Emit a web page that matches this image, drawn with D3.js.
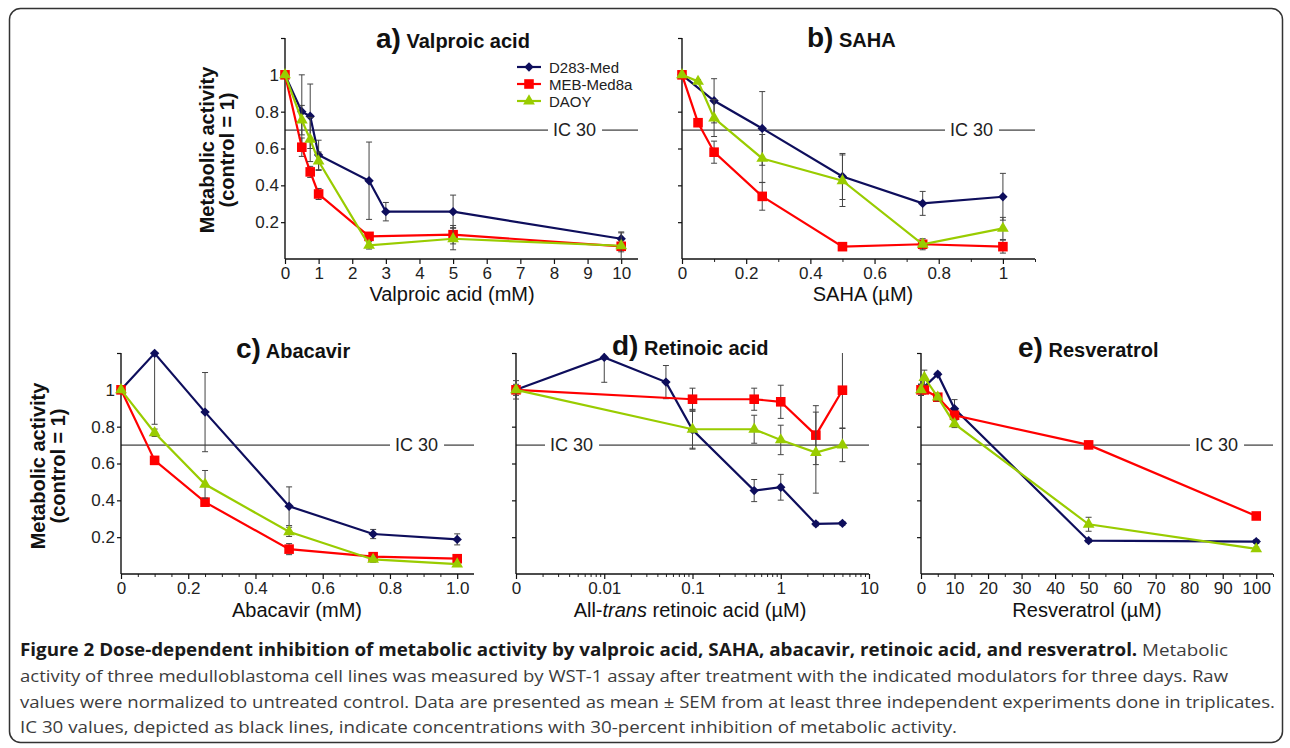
<!DOCTYPE html>
<html>
<head>
<meta charset="utf-8">
<script src="https://cdn.jsdelivr.net/npm/d3@7"></script>
<style>
  body { margin: 0; background: #fff; }
  svg { display: block; font-family: "Liberation Sans", Arial, sans-serif; }
</style>
</head>
<body>
<div id="main"></div>
<script>
// cell lines
var seriesNames = ["D283-Med", "MEB-Med8a", "DAOY"];

// a) Valproic acid (mM)
var vpaDose = [0, 0.5, 0.75, 1, 2.5, 3, 5, 10];
var vpaD283 = [1.0, 0.80, 0.775, 0.565, 0.425, 0.257, 0.257, 0.11];
var vpaD283Err = [0, 0.2, 0.175, 0.08, 0.21, 0.05, 0.09, 0.037];
var vpaMEB = [1.0, 0.607, 0.473, 0.353, 0.123, null, 0.132, 0.069];
var vpaMEBErr = [0, 0.05, 0.03, 0.03, 0.02, null, 0.05, 0.03];
var vpaDAOY = [1.0, 0.754, 0.649, 0.531, 0.074, null, 0.11, 0.072];
var vpaDAOYErr = [0, 0.08, 0.12, 0.05, 0.02, null, 0.06, 0.07];

// b) SAHA (uM)
var sahaDose = [0, 0.05, 0.1, 0.25, 0.5, 0.75, 1];
var sahaD283 = [1.0, null, 0.859, 0.709, 0.448, 0.302, 0.338];
var sahaD283Err = [0, null, 0.12, 0.2, 0.125, 0.065, 0.127];
var sahaMEB = [1.0, 0.74, 0.58, 0.34, 0.067, 0.08, 0.067];
var sahaMEBErr = [0, 0.02, 0.06, 0.075, 0.01, 0.02, 0.035];
var sahaDAOY = [1.0, 0.964, 0.765, 0.546, 0.425, 0.08, 0.166];
var sahaDAOYErr = [0, 0.01, 0.1, 0.13, 0.14, 0.03, 0.06];

// c) Abacavir (mM)
var abcDose = [0, 0.1, 0.25, 0.5, 0.75, 1.0];
var abcD283 = [1.0, 1.198, 0.879, 0.368, 0.217, 0.188];
var abcD283Err = [0, 0.385, 0.215, 0.105, 0.025, 0.03];
var abcMEB = [1.0, 0.617, 0.39, 0.135, 0.094, 0.083];
var abcMEBErr = [0, 0.02, 0.02, 0.03, 0.02, 0.02];
var abcDAOY = [1.0, 0.767, 0.487, 0.229, 0.079, 0.054];
var abcDAOYErr = [0, 0.02, 0.075, 0.025, 0.015, 0.01];

// d) All-trans retinoic acid (uM), 0 is drawn at the left end of the log axis
var raDose = [0, 0.01, 0.05, 0.1, 0.5, 1, 2.5, 5];
var raD283 = [1.0, 1.176, 1.042, 0.783, 0.453, 0.471, 0.272, 0.275];
var raD283Err = [0.02, 0.135, 0.09, 0.1, 0.06, 0.07, 0.01, 0.01];
var raMEB = [1.0, null, null, 0.949, 0.949, 0.935, 0.754, 0.998];
var raMEBErr = [0.05, null, null, 0.06, 0.06, 0.09, 0.16, 0.205];
var raDAOY = [1.0, null, null, 0.786, 0.786, 0.728, 0.659, 0.70];
var raDAOYErr = [0.03, null, null, 0.108, 0.076, 0.08, 0.22, 0.09];

// e) Resveratrol (uM)
var resDose = [0, 1, 5, 10, 50, 100];
var resD283 = [1.0, null, 1.085, 0.897, 0.181, 0.176];
var resD283Err = [0.03, null, 0.01, 0.05, 0.01, 0.01];
var resMEB = [1.0, 1.0, 0.96, 0.862, 0.701, 0.315];
var resMEBErr = [0.03, 0.02, 0.02, 0.02, 0.02, 0.01];
var resDAOY = [1.0, 1.067, 0.96, 0.815, 0.27, 0.136];
var resDAOYErr = [0.03, 0.04, 0.02, 0.02, 0.038, 0.01];

var yTicks = [0.2, 0.4, 0.6, 0.8, 1.0, 1.2];
var icLevel = 0.7;

var ctx = {
    w: 1290,
    h: 748,
    colors: ["#0e0e5c", "#ff0000", "#99cc00"],
    symbols: [
        {type: d3.symbolSquare, size: 44, rotate: 45},
        {type: d3.symbolSquare, size: 92, rotate: 0},
        {type: d3.symbolTriangle, size: 60, rotate: 0}
    ],
    tickFont: 17
};

var panels = [
    {letter: "a)", title: "Valproic acid", xlabel: "Valproic acid (mM)",
     x0: 285, x1: 638, yTop: 38, yBot: 259, xMax: 10.5,
     dose: vpaDose, vals: [vpaD283, vpaMEB, vpaDAOY], errs: [vpaD283Err, vpaMEBErr, vpaDAOYErr],
     major: d3.range(0, 11, 1), labels: d3.range(0, 11, 1).map(String), minor: [],
     titleX: 376, titleY: 48, xlabX: 452, xlabY: 301, icX: 553, yLab: {x1: 214, x2: 234, cy: 150},
     legend: {x: 517, y: 67}},
    {letter: "b)", title: "SAHA", xlabel: "SAHA (\u00b5M)",
     x0: 682, x1: 1035, yTop: 38, yBot: 259, xMax: 1.1,
     dose: sahaDose, vals: [sahaD283, sahaMEB, sahaDAOY], errs: [sahaD283Err, sahaMEBErr, sahaDAOYErr],
     major: [0, 0.2, 0.4, 0.6, 0.8, 1], labels: ["0", "0.2", "0.4", "0.6", "0.8", "1"], minor: [0.1, 0.3, 0.5, 0.7, 0.9, 1.1],
     titleX: 807, titleY: 47, xlabX: 863, xlabY: 301, icX: 950},
    {letter: "c)", title: "Abacavir", xlabel: "Abacavir (mM)",
     x0: 121, x1: 474, yTop: 353, yBot: 574, xMax: 1.05,
     dose: abcDose, vals: [abcD283, abcMEB, abcDAOY], errs: [abcD283Err, abcMEBErr, abcDAOYErr],
     major: [0, 0.2, 0.4, 0.6, 0.8, 1.0], labels: ["0", "0.2", "0.4", "0.6", "0.8", "1.0"],
     minor: [0.05, 0.1, 0.15, 0.25, 0.3, 0.35, 0.45, 0.5, 0.55, 0.65, 0.7, 0.75, 0.85, 0.9, 0.95],
     titleX: 236, titleY: 358, xlabX: 297, xlabY: 617, icX: 395, yLab: {x1: 45, x2: 65, cy: 466}},
    {letter: "d)", title: "Retinoic acid", xlabel: "All-trans retinoic acid (\u00b5M)", log: true,
     x0: 516, x1: 869, yTop: 353, yBot: 574,
     dose: raDose, vals: [raD283, raMEB, raDAOY], errs: [raD283Err, raMEBErr, raDAOYErr],
     major: [0, 0.01, 0.1, 1, 10], labels: ["0", "0.01", "0.1", "1", "10"],
     minor: [0.002, 0.003, 0.004, 0.005, 0.006, 0.007, 0.008, 0.009,
             0.02, 0.03, 0.04, 0.05, 0.06, 0.07, 0.08, 0.09,
             0.2, 0.3, 0.4, 0.5, 0.6, 0.7, 0.8, 0.9,
             2, 3, 4, 5, 6, 7, 8, 9],
     titleX: 612, titleY: 355, xlabX: 690, xlabY: 617, icX: 550},
    {letter: "e)", title: "Resveratrol", xlabel: "Resveratrol (\u00b5M)",
     x0: 921, x1: 1273, yTop: 353, yBot: 574, xMax: 105,
     dose: resDose, vals: [resD283, resMEB, resDAOY], errs: [resD283Err, resMEBErr, resDAOYErr],
     major: d3.range(0, 101, 10), labels: d3.range(0, 101, 10).map(String), minor: d3.range(5, 106, 10),
     titleX: 1018, titleY: 357, xlabX: 1087, xlabY: 617, icX: 1195}
];

var captionLines = [
    [{t: "Figure 2 Dose-dependent inhibition of metabolic activity by valproic acid, SAHA, abacavir, retinoic acid, and resveratrol.", b: true},
     {t: " Metabolic", b: false}],
    [{t: "activity of three medulloblastoma cell lines was measured by WST-1 assay after treatment with the indicated modulators for three days. Raw", b: false}],
    [{t: "values were normalized to untreated control. Data are presented as mean \u00b1 SEM from at least three independent experiments done in triplicates.", b: false}],
    [{t: "IC 30 values, depicted as black lines, indicate concentrations with 30-percent inhibition of metabolic activity.", b: false}]
];
var captionWidths = [1208, 1208, 1255, 937];

var clipCount = 0;

var drawPanel = function(svg, p) {
    var g = svg.append("g");
    var xv = function(d) { return (p.log && d === 0) ? 0.001 : d; };
    var x = p.log
        ? d3.scaleLog().domain([0.001, 10]).range([p.x0, p.x1])
        : d3.scaleLinear().domain([0, p.xMax]).range([p.x0, p.x1]);
    var y = d3.scaleLinear().domain([0, 1.2]).range([p.yBot, p.yTop]);

    // error bars are cut at the top of the y axis
    var clipId = "clip-" + (clipCount++);
    g.append("clipPath").attr("id", clipId).append("rect")
        .attr("x", p.x0 - 20).attr("y", p.yTop).attr("width", p.x1 - p.x0 + 40).attr("height", p.yBot - p.yTop + 20);

    // minor x ticks
    if (p.minor.length) {
        g.append("g").attr("transform", "translate(0," + p.yBot + ")")
            .call(d3.axisBottom(x).tickValues(p.minor).tickSize(3).tickSizeOuter(0).tickFormat(""))
            .call(function(a){ a.select(".domain").remove(); })
            .selectAll("line").attr("stroke", "#222");
    }
    // major x ticks
    var xa = g.append("g").attr("transform", "translate(0," + p.yBot + ")")
        .call(d3.axisBottom(x).tickValues(p.major.map(xv)).tickSize(5).tickSizeOuter(0)
            .tickFormat(function(d, i){ return p.labels[i]; }));
    xa.select(".domain").attr("d", "M" + p.x0 + ",0H" + p.x1).attr("stroke", "#111").attr("stroke-width", 1.4);
    xa.selectAll("line").attr("stroke", "#111").attr("stroke-width", 1.2);
    xa.selectAll("text").attr("font-size", ctx.tickFont).attr("font-family", "Liberation Sans, Arial, sans-serif").attr("fill", "#222");

    // y axis
    var ya = g.append("g").attr("transform", "translate(" + p.x0 + ",0)")
        .call(d3.axisLeft(y).tickValues(yTicks).tickSize(4).tickPadding(2).tickSizeOuter(0)
            .tickFormat(function(d){
                if (!p.yLab || d > 1.1) return "";
                return d === 1 ? "1" : d3.format(".1f")(d);
            }));
    ya.select(".domain").attr("d", "M0," + p.yBot + "V" + p.yTop).attr("stroke", "#111").attr("stroke-width", 1.4);
    ya.selectAll("line").attr("stroke", "#111").attr("stroke-width", 1.2);
    ya.selectAll("text").attr("font-size", ctx.tickFont).attr("font-family", "Liberation Sans, Arial, sans-serif").attr("fill", "#222");

    // IC 30 line with its label
    var icY = y(icLevel);
    var icText = g.append("text").attr("x", p.icX).attr("y", icY + 6)
        .attr("font-size", 18).attr("fill", "#222").text("IC 30");
    var tw = icText.node().getComputedTextLength();
    g.append("line").attr("x1", p.x0).attr("x2", p.icX - 5).attr("y1", icY).attr("y2", icY)
        .attr("stroke", "#111").attr("stroke-width", 1);
    g.append("line").attr("x1", p.icX + tw + 6).attr("x2", p.x1).attr("y1", icY).attr("y2", icY)
        .attr("stroke", "#111").attr("stroke-width", 1);

    // series
    p.vals.forEach(function(vals, s) {
        var pts = [];
        vals.forEach(function(v, i) {
            if (v !== null) pts.push({x: x(xv(p.dose[i])), v: v, e: p.errs[s][i]});
        });
        var sg = g.append("g");
        var eg = sg.append("g").attr("clip-path", "url(#" + clipId + ")");
        // error bars
        pts.filter(function(d){ return d.e > 0; }).forEach(function(d) {
            var yl = y(d.v - d.e), yh = y(d.v + d.e);
            eg.append("line").attr("x1", d.x).attr("x2", d.x).attr("y1", yl).attr("y2", yh)
                .attr("stroke", "#444").attr("stroke-width", 1);
            [yl, yh].forEach(function(yy) {
                eg.append("line").attr("x1", d.x - 3).attr("x2", d.x + 3).attr("y1", yy).attr("y2", yy)
                    .attr("stroke", "#444").attr("stroke-width", 1);
            });
        });
        sg.append("path")
            .attr("d", d3.line().x(function(d){ return d.x; }).y(function(d){ return y(d.v); })(pts))
            .attr("fill", "none").attr("stroke", ctx.colors[s]).attr("stroke-width", 2.2);
        var sym = ctx.symbols[s];
        sg.selectAll("path.m").data(pts).enter().append("path").classed("m", true)
            .attr("d", d3.symbol().type(sym.type).size(sym.size)())
            .attr("transform", function(d){ return "translate(" + d.x + "," + y(d.v) + ") rotate(" + sym.rotate + ")"; })
            .attr("fill", ctx.colors[s]);
    });

    // title
    var t = g.append("text").attr("x", p.titleX).attr("y", p.titleY).attr("font-weight", "bold").attr("fill", "#111");
    t.append("tspan").attr("font-size", 28).text(p.letter);
    t.append("tspan").attr("font-size", 20).text(" " + p.title);

    // x axis label
    var xl = g.append("text").attr("x", p.xlabX).attr("y", p.xlabY).attr("text-anchor", "middle")
        .attr("font-size", 20).attr("fill", "#111");
    if (p.log) {
        xl.append("tspan").text("All-");
        xl.append("tspan").attr("font-style", "italic").text("trans");
        xl.append("tspan").text(" retinoic acid (\u00b5M)");
    } else {
        xl.text(p.xlabel);
    }

    // y axis label
    if (p.yLab) {
        [["Metabolic activity", p.yLab.x1], ["(control = 1)", p.yLab.x2]].forEach(function(r) {
            g.append("text").attr("transform", "translate(" + r[1] + "," + p.yLab.cy + ") rotate(-90)")
                .attr("text-anchor", "middle").attr("font-size", 20).attr("font-weight", "bold")
                .attr("fill", "#111").text(r[0]);
        });
    }

    // legend
    if (p.legend) {
        seriesNames.forEach(function(name, s) {
            var ly = p.legend.y + s * 17;
            g.append("line").attr("x1", p.legend.x).attr("x2", p.legend.x + 24).attr("y1", ly).attr("y2", ly)
                .attr("stroke", ctx.colors[s]).attr("stroke-width", 2.2);
            var sym = ctx.symbols[s];
            g.append("path").attr("d", d3.symbol().type(sym.type).size(sym.size)())
                .attr("transform", "translate(" + (p.legend.x + 12) + "," + ly + ") rotate(" + sym.rotate + ")")
                .attr("fill", ctx.colors[s]);
            g.append("text").attr("x", p.legend.x + 32).attr("y", ly + 5.5)
                .attr("font-size", 15).attr("fill", "#222").text(name);
        });
    }
};

var createViz = function() {
    var svg = d3.select("#main").append("svg").attr("width", ctx.w).attr("height", ctx.h);
    svg.append("rect").attr("x", 9.5).attr("y", 8.5).attr("width", 1273).attr("height", 734).attr("rx", 11)
        .attr("fill", "#fff").attr("stroke", "#333").attr("stroke-width", 1.5);

    panels.forEach(function(p){ drawPanel(svg, p); });

    // caption
    captionLines.forEach(function(line, i) {
        var t = svg.append("text").attr("x", 20).attr("y", 656 + i * 25.8)
            .attr("font-family", "Open Sans, sans-serif").attr("font-size", 17)
            .attr("textLength", captionWidths[i]).attr("lengthAdjust", "spacingAndGlyphs");
        line.forEach(function(part) {
            t.append("tspan").attr("font-weight", part.b ? "bold" : "normal")
                .attr("fill", part.b ? "#1a1a1a" : "#3c3c3c").text(part.t);
        });
    });
};

createViz();
</script>
</body>
</html>
